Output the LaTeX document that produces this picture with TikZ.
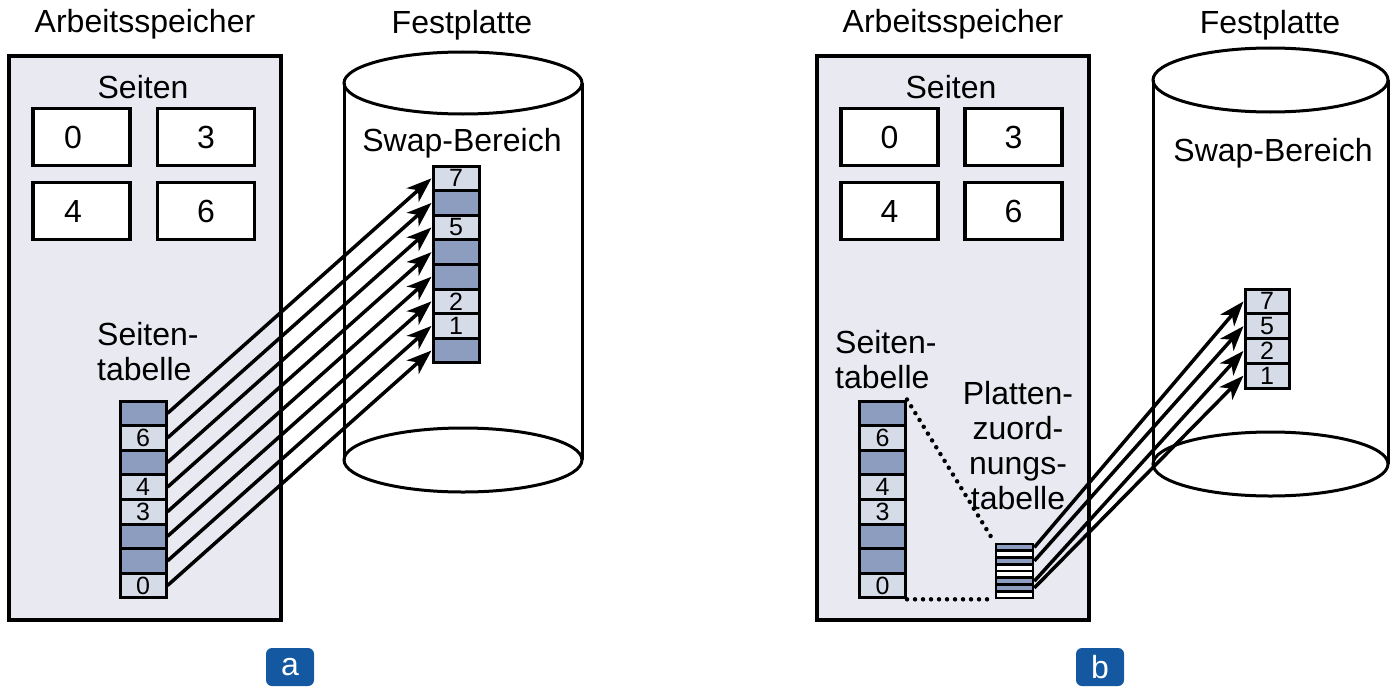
\documentclass[tikz,border=0pt]{standalone}
\usepackage{fontspec}
\setmainfont{Liberation Sans}
\usetikzlibrary{arrows.meta}
\definecolor{memfill}{RGB}{233,234,241}
\definecolor{cellblue}{RGB}{141,157,192}
\definecolor{celllight}{RGB}{214,219,232}
\definecolor{tagblue}{RGB}{20,88,162}
\begin{document}
\begin{tikzpicture}[x=1pt,y=-1pt,
  big/.style={font=\fontsize{32}{35}\selectfont, inner sep=0pt},
  mem/.style={draw=black, line width=3.5pt, fill=memfill},
  pagebox/.style={draw, line width=3.5pt, fill=white, minimum width=97pt, minimum height=57pt, inner sep=0pt},
  cell/.style={draw, line width=3pt, minimum width=46pt, minimum height=24.6pt, inner sep=0pt, font=\fontsize{25}{25}\selectfont},
  bcell/.style={cell, fill=cellblue},
  lcell/.style={cell, fill=celllight},
  mcell/.style={draw, line width=2.6pt, minimum width=37pt, minimum height=6.75pt, inner sep=0pt},
  cyl/.style={line width=3pt},
  arr/.style={line width=3.5pt, -{Stealth[length=25pt,width=18pt,inset=7pt]}},
  dots/.style={line width=4.5pt, line cap=round, dash pattern=on 0pt off 8pt},
  tag/.style={fill=tagblue, rounded corners=6pt, minimum width=48pt, minimum height=38pt, inner sep=0pt, text=white, font=\fontsize{32}{32}\selectfont}
]
\useasboundingbox (0,0) rectangle (1396,693);

% ================= Panel a =================
\node[big, anchor=base] (titleMemA) at (145,33) {Arbeitsspeicher};
\node[big, anchor=base] (titleDiskA) at (462,34) {Festplatte};
\draw[mem] (9,56) rectangle (281,620);
\node[big, anchor=base] (seitenA) at (143,98) {Seiten};
\node[pagebox] (pA0) at (81.5,137) {};
\node[pagebox] (pA3) at (206,137) {};
\node[pagebox] (pA4) at (81.5,211) {};
\node[pagebox] (pA6) at (206,211) {};
\node[big] (tA0) at ([xshift=-8.5pt]pA0.center) {0};
\node[big] (tA3) at (pA3.center) {3};
\node[big] (tA4) at ([xshift=-8.5pt]pA4.center) {4};
\node[big] (tA6) at (pA6.center) {6};
\node[big, anchor=base west, align=left, font=\fontsize{32}{35}\selectfont] (stabA) at (97,380) {Seiten-\\tabelle};

% page table a
\foreach \i/\s/\t in {0/bcell/,1/lcell/6,2/bcell/,3/lcell/4,4/lcell/3,5/bcell/,6/bcell/,7/lcell/0}
  \node[\s] (ptA\i) at (143,{401+24.6*(\i+0.5)}) {\t};

% cylinder a
\draw[cyl] (344,83) -- (344,460);
\draw[cyl] (582,83) -- (582,460);
\draw[cyl] (463,83) ellipse [x radius=119, y radius=31];
\draw[cyl] (463,460) ellipse [x radius=119, y radius=32];
\node[big, anchor=base] (swapA) at (462,151) {Swap-Bereich};

% swap table a
\foreach \i/\s/\t in {0/lcell/7,1/bcell/,2/lcell/5,3/bcell/,4/bcell/,5/lcell/2,6/lcell/1,7/bcell/}
  \node[\s] (swA\i) at (456,{166+24.6*(\i+0.5)}) {\t};

\foreach \i in {0,...,7}
  \draw[arr] (ptA\i.east) -- (swA\i.west);

\node[tag] (tagA) at (290,667) {a};

% ================= Panel b =================
\node[big, anchor=base] (titleMemB) at (953,33) {Arbeitsspeicher};
\node[big, anchor=base] (titleDiskB) at (1270,34) {Festplatte};
\draw[mem] (817,56) rectangle (1089,620);
\node[big, anchor=base] (seitenB) at (951,98) {Seiten};
\node[pagebox] (pB0) at (889.5,137) {};
\node[pagebox] (pB3) at (1013.5,137) {};
\node[pagebox] (pB4) at (889.5,211) {};
\node[pagebox] (pB6) at (1013.5,211) {};
\node[big] (tB0) at (pB0.center) {0};
\node[big] (tB3) at (pB3.center) {3};
\node[big] (tB4) at (pB4.center) {4};
\node[big] (tB6) at (pB6.center) {6};
\node[big, anchor=base west, align=left, font=\fontsize{32}{35}\selectfont] (stabB) at (835,388) {Seiten-\\tabelle};
\node[big, anchor=base, align=center, font=\fontsize{32}{35}\selectfont] (pztab) at (1018,509) {Platten-\\zuord-\\nungs-\\tabelle};

% page table b
\foreach \i/\s/\t in {0/bcell/,1/lcell/6,2/bcell/,3/lcell/4,4/lcell/3,5/bcell/,6/bcell/,7/lcell/0}
  \node[\s] (ptB\i) at (882.5,{401+24.6*(\i+0.5)}) {\t};

% disk map table
\foreach \i/\c in {0/cellblue,1/white,2/cellblue,3/white,4/white,5/cellblue,6/cellblue,7/white}
  \node[mcell, fill=\c] (mt\i) at (1014.5,{544+6.75*(\i+0.5)}) {};

\draw[dots] (ptB0.north east) -- (mt0.north west);
\draw[dots] (ptB7.south east) -- (mt7.south west);

% cylinder b
\draw[cyl] (1153,80) -- (1153,464);
\draw[cyl] (1388,80) -- (1388,464);
\draw[cyl] (1270.5,80) ellipse [x radius=117.5, y radius=32];
\draw[cyl] (1270.5,464) ellipse [x radius=117.5, y radius=32];
\node[big, anchor=base] (swapB) at (1273,161) {Swap-Bereich};

% swap table b
\foreach \i/\t in {0/7,1/5,2/2,3/1}
  \node[lcell, minimum width=44pt, minimum height=24.75pt] (swB\i) at (1267,{289+24.75*(\i+0.5)}) {\t};

\draw[arr] (mt0.east) -- (swB0.west);
\draw[arr] (mt2.east) -- (swB1.west);
\draw[arr] (mt5.east) -- (swB2.west);
\draw[arr] (mt6.east) -- (swB3.west);

\node[tag] (tagB) at (1100,667) {b};
\end{tikzpicture}
\end{document}
